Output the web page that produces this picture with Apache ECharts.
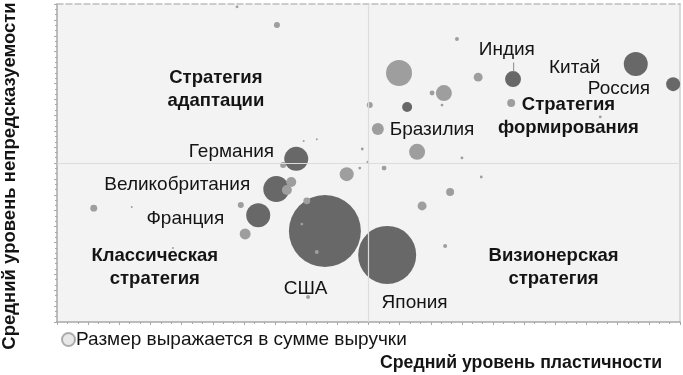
<!DOCTYPE html>
<html><head><meta charset="utf-8">
<script src="https://cdn.jsdelivr.net/npm/echarts@6/dist/echarts.min.js"></script>
<style>html,body{margin:0;padding:0;background:#fff;}#c{width:683px;height:375px;}</style>
</head><body><div id="c"></div>
<script>
// Dark bubbles (named countries): x = plasticity, y = unpredictability, revenue
const darkNames   = ['Германия','Великобритания','Франция','США','Япония','Индия','','Китай','Россия'];
const darkX       = [3.84, 3.52, 3.23, 4.30, 5.30, 7.32, 5.62, 9.29, 9.89];
const darkY       = [5.13, 4.18, 3.36, 2.86, 2.11, 7.64, 6.76, 8.11, 7.48];
const darkRevenue = [144, 169, 144, 1296, 841, 64, 25, 144, 49];

// Light bubbles (other countries)
const lightX = [2.89,3.53,3.96,4.17,3.63,4.90,4.99,4.86,4.65,5.25,3.76,3.69,4.01,2.95,5.78,5.15,6.42,5.49,6.76,6.02,6.21,6.18,5.02,7.29,8.72,6.50,6.81,6.31,5.86,6.23,0.59,1.20,3.02,1.86,3.93,4.17,4.03];
const lightY = [9.91,9.34,5.69,5.75,4.94,5.44,5.03,4.84,4.65,4.84,4.40,4.15,3.81,3.68,5.35,6.07,8.90,7.83,7.70,7.20,7.20,6.82,6.82,6.89,6.45,5.16,4.56,4.09,3.65,2.39,3.58,3.62,2.77,2.33,3.08,2.20,0.79];
const lightRevenue = [2,9,1,1,9,2,2,2,49,6,25,25,12,9,64,36,4,169,20,6,64,2,9,16,2,2,2,16,20,4,12,1,30,1,2,4,4];

// Country labels
const countryLabels = ['Индия','Китай','Россия','Бразилия','Германия','Великобритания','Франция','США','Япония'];
const countryLabelX = [7.22, 8.31, 9.02, 6.02, 2.80, 1.93, 2.06, 3.99, 5.74];
const countryLabelY = [8.57, 8.01, 7.32, 6.04, 5.35, 4.30, 3.24, 1.05, 0.62];

// Quadrant labels
const quadrantLabels = ['Стратегия\nадаптации','Стратегия\nформирования','Классическая\nстратегия','Визионерская\nстратегия'];
const quadrantX = [2.55, 8.21, 1.57, 7.97];
const quadrantY = [7.32, 6.46, 1.71, 1.72];

const xTitle = 'Средний уровень пластичности';
const yTitle = 'Средний уровень непредсказуемости';
const legendText = 'Размер выражается в сумме выручки';

const FONT = '"Liberation Sans", Arial, sans-serif';
const TXT = '#141414';
const sz = v => 2 * Math.sqrt(v[2]);

const chart = echarts.init(document.getElementById('c'), null, {renderer: 'canvas'});
const axisCol = '#a8a8a8';
chart.setOption({
  animation: false,
  backgroundColor: '#fff',
  textStyle: {fontFamily: FONT},
  grid: {left: 57, right: 3, top: 4, bottom: 53, show: true, backgroundColor: '#f3f3f3', borderWidth: 0},
  xAxis: [
    {type: 'value', min: 0, max: 10, interval: 0.5, position: 'bottom',
     axisLine: {show: true, onZero: false, lineStyle: {color: axisCol, width: 1.5}},
     axisTick: {show: true, length: 3, lineStyle: {color: axisCol}},
     minorTick: {show: true, splitNumber: 3, length: 2, lineStyle: {color: axisCol}},
     axisLabel: {show: false}, splitLine: {show: false}},
    {type: 'value', min: 0, max: 10, position: 'top',
     axisLine: {show: true, onZero: false, lineStyle: {color: '#bdbdbd', width: 1.5, type: [6, 3]}},
     axisTick: {show: false}, axisLabel: {show: false}, splitLine: {show: false}}
  ],
  yAxis: [
    {type: 'value', min: 0, max: 10, interval: 0.5, position: 'left',
     axisLine: {show: true, onZero: false, lineStyle: {color: axisCol, width: 1.5}},
     axisTick: {show: true, length: 3, lineStyle: {color: axisCol}},
     minorTick: {show: true, splitNumber: 3, length: 2, lineStyle: {color: axisCol}},
     axisLabel: {show: false}, splitLine: {show: false}},
    {type: 'value', min: 0, max: 10, position: 'right',
     axisLine: {show: true, onZero: false, lineStyle: {color: '#cfcfcf', width: 1.5}},
     axisTick: {show: false}, axisLabel: {show: false}, splitLine: {show: false}}
  ],
  legend: {
    left: 56, top: 325, icon: 'circle', itemWidth: 13, itemHeight: 13, itemGap: 4,
    textStyle: {fontFamily: FONT, fontSize: 19, color: TXT, padding: [0, 0, 0, -4]},
    data: [legendText]
  },
  graphic: [
    {type: 'text', left: 380, top: 354, style: {text: xTitle, font: 'bold 17.7px ' + FONT, fill: TXT}},
    {type: 'text', x: 10, y: 176, rotation: Math.PI / 2,
     style: {text: yTitle, font: 'bold 18.5px ' + FONT, fill: TXT, align: 'center', verticalAlign: 'middle'}}
  ],
  series: [
    {type: 'scatter', name: 'dark', silent: true, z: 2,
     data: darkX.map((x, i) => [x, darkY[i], darkRevenue[i]]),
     symbolSize: sz, itemStyle: {color: '#686868', opacity: 1},
     markLine: {silent: true, symbol: 'none', label: {show: false},
       lineStyle: {color: '#dcdcdc', width: 1.2, type: 'solid'},
       data: [{xAxis: 5}, {yAxis: 5}]}},
    {type: 'scatter', name: 'light', silent: true, z: 3,
     data: lightX.map((x, i) => [x, lightY[i], lightRevenue[i]]),
     symbolSize: sz, itemStyle: {color: '#9e9e9e', opacity: 1}},
    {type: 'scatter', name: legendText, silent: true, data: [],
     itemStyle: {color: '#e2e2e2', borderColor: '#9a9a9a', borderWidth: 1}},
    {type: 'line', silent: true, z: 4, symbol: 'none',
     data: [[7.33, 8.16], [7.33, 7.86]], lineStyle: {color: '#888', width: 1}},
    {type: 'scatter', silent: true, z: 5, symbolSize: 0, itemStyle: {opacity: 1},
     data: countryLabels.map((n, i) => ({value: [countryLabelX[i], countryLabelY[i]], name: n})),
     label: {show: true, position: 'inside', formatter: p => p.name, opacity: 1,
       fontFamily: FONT, fontSize: 19, color: TXT}},
    {type: 'scatter', silent: true, z: 5, symbolSize: 0, itemStyle: {opacity: 1},
     data: quadrantLabels.map((n, i) => ({value: [quadrantX[i], quadrantY[i]], name: n})),
     label: {show: true, position: 'inside', formatter: p => p.name, align: 'center', opacity: 1,
       fontFamily: FONT, fontSize: 18.5, fontWeight: 'bold', lineHeight: 23, color: TXT}}
  ]
});
</script></body></html>
